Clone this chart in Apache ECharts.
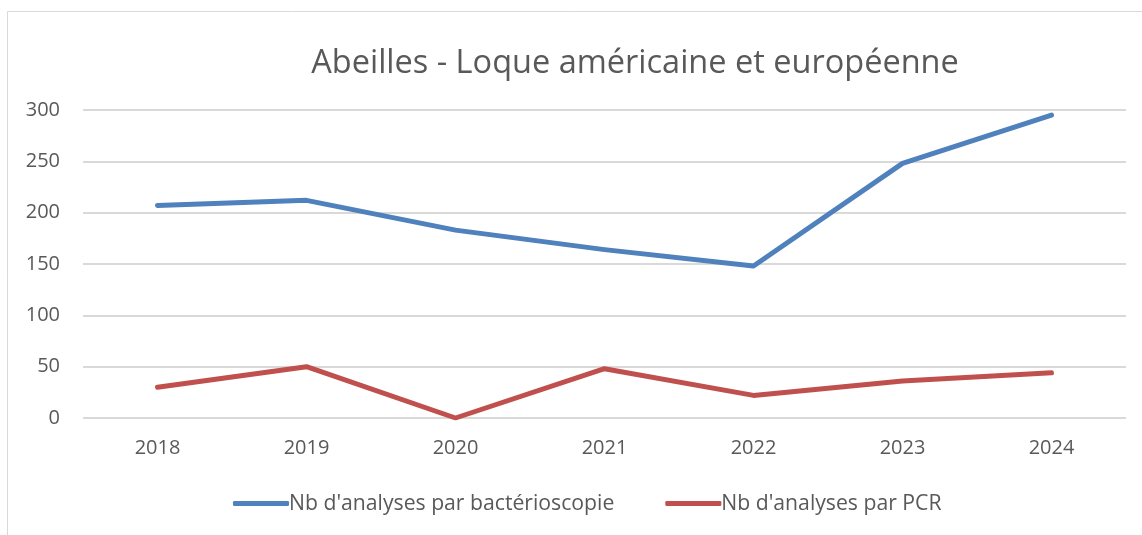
<!DOCTYPE html>
<html>
<head>
<meta charset="utf-8">
<script src="https://cdn.jsdelivr.net/npm/echarts@6/dist/echarts.min.js"></script>
<style>
  html, body { margin: 0; padding: 0; background: #fff; }
  #chart { width: 1142px; height: 535px; }
</style>
</head>
<body>
<div id="chart"></div>
<script>
  var years = ['2018', '2019', '2020', '2021', '2022', '2023', '2024'];
  var bacterio = [207, 212, 183, 164, 148, 248, 295];
  var pcr = [30, 50, 0, 48, 22, 36, 44];
  var seriesNames = ["Nb d'analyses par bactérioscopie", "Nb d'analyses par PCR"];

  var font = 'Open Sans';
  var myChart = echarts.init(document.getElementById('chart'));

  myChart.setOption({
    backgroundColor: '#fff',
    animation: false,
    title: {
      text: 'Abeilles - Loque américaine et européenne',
      left: 630,
      textAlign: 'center',
      top: 42,
      textStyle: {
        fontFamily: font,
        fontWeight: 'normal',
        fontSize: 32.5,
        color: '#595959'
      }
    },
    graphic: [{
      type: 'rect',
      shape: { x: 7.5, y: 11.5, width: 1150, height: 540 },
      style: { fill: 'none', stroke: '#d9d9d9', lineWidth: 1 },
      silent: true
    }],
    legend: {
      top: 488,
      left: 228,
      itemGap: 51,
      itemWidth: 56,
      itemHeight: 5,
      icon: 'roundRect',
      textStyle: {
        fontFamily: font,
        fontSize: 21.2,
        color: '#595959',
        padding: [0, 0, 0, -5]
      },
      data: seriesNames
    },
    grid: {
      left: 83,
      right: 16,
      top: 110,
      bottom: 117
    },
    xAxis: {
      type: 'category',
      data: years,
      boundaryGap: true,
      axisLine: { show: false },
      axisTick: { show: false },
      axisLabel: {
        fontFamily: font,
        fontSize: 20,
        color: '#595959',
        margin: 20
      }
    },
    yAxis: {
      type: 'value',
      min: 0,
      max: 300,
      interval: 50,
      axisLine: { show: false },
      axisTick: { show: false },
      splitLine: { lineStyle: { color: '#d9d9d9', width: 2 } },
      axisLabel: {
        fontFamily: font,
        fontSize: 20,
        color: '#595959',
        margin: 23
      }
    },
    series: [{
      name: seriesNames[0],
      type: 'line',
      data: bacterio,
      symbol: 'none',
      color: '#4f81bd',
      lineStyle: { width: 5, cap: 'round', join: 'round' }
    }, {
      name: seriesNames[1],
      type: 'line',
      data: pcr,
      symbol: 'none',
      color: '#c0504d',
      lineStyle: { width: 5, cap: 'round', join: 'round' }
    }]
  });
</script>
</body>
</html>
